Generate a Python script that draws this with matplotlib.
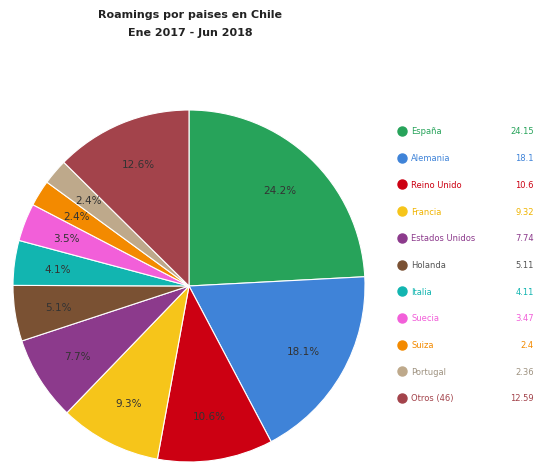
import matplotlib
matplotlib.use("Agg")
import matplotlib.pyplot as plt

# Roaming share by country, Jan 2017 - Jun 2018
countries = ["España", "Alemania", "Reino Unido", "Francia", "Estados Unidos",
             "Holanda", "Italia", "Suecia", "Suiza", "Portugal", "Otros (46)"]
values = [24.15, 18.1, 10.6, 9.32, 7.74, 5.11, 4.11, 3.47, 2.4, 2.36, 12.59]
value_labels = ["24.15", "18.1", "10.6", "9.32", "7.74", "5.11", "4.11",
                "3.47", "2.4", "2.36", "12.59"]
colors = ["#27a35a", "#3f83d8", "#cc0012", "#f6c51a", "#8c3a8c", "#7a5133",
          "#12b5b0", "#f25fd9", "#f38a00", "#bea98b", "#a3434b"]
label_colors = ["#27a35a", "#3f83d8", "#cc0012", "#f0b400", "#8c3a8c", "#555555",
                "#12b5b0", "#f25fd9", "#f38a00", "#9e9280", "#a3434b"]

W, H = 536, 464
fig = plt.figure(figsize=(W / 100, H / 100), dpi=100)
fig.patch.set_facecolor("white")

fig.text(190 / W, 1 - 15 / H, "Roamings por paises en Chile", ha="center",
         va="center", fontsize=8, fontweight="bold", color="#222222")
fig.text(190 / W, 1 - 33 / H, "Ene 2017 - Jun 2018", ha="center",
         va="center", fontsize=8, fontweight="bold", color="#222222")

# Pie
cx, cy, r = 189, 287, 176
ax = fig.add_axes([(cx - r) / W, (H - cy - r) / H, 2 * r / W, 2 * r / H])
wedges, texts, autotexts = ax.pie(
    values, colors=colors, startangle=90, counterclock=False,
    autopct="%.1f%%", pctdistance=0.75,
    wedgeprops=dict(edgecolor="white", linewidth=0.8),
    textprops=dict(fontsize=7.5, color="#333333"))
ax.set_xlim(-1, 1)
ax.set_ylim(-1, 1)
ax.set_aspect("equal")
ax.axis("off")

# Legend
lax = fig.add_axes([0, 0, 1, 1])
lax.set_xlim(0, W)
lax.set_ylim(H, 0)
lax.axis("off")
y0, step = 132, 26.7
for i, (name, val, c, lc) in enumerate(zip(countries, value_labels, colors, label_colors)):
    y = y0 + i * step
    lax.plot(402, y, "o", color=c, markersize=6.5)
    lax.text(411, y, name, color=lc, fontsize=6, va="center", ha="left")
    lax.text(534, y, val, color=lc, fontsize=6, va="center", ha="right")

fig.savefig("out.png", dpi=100, facecolor="white")
